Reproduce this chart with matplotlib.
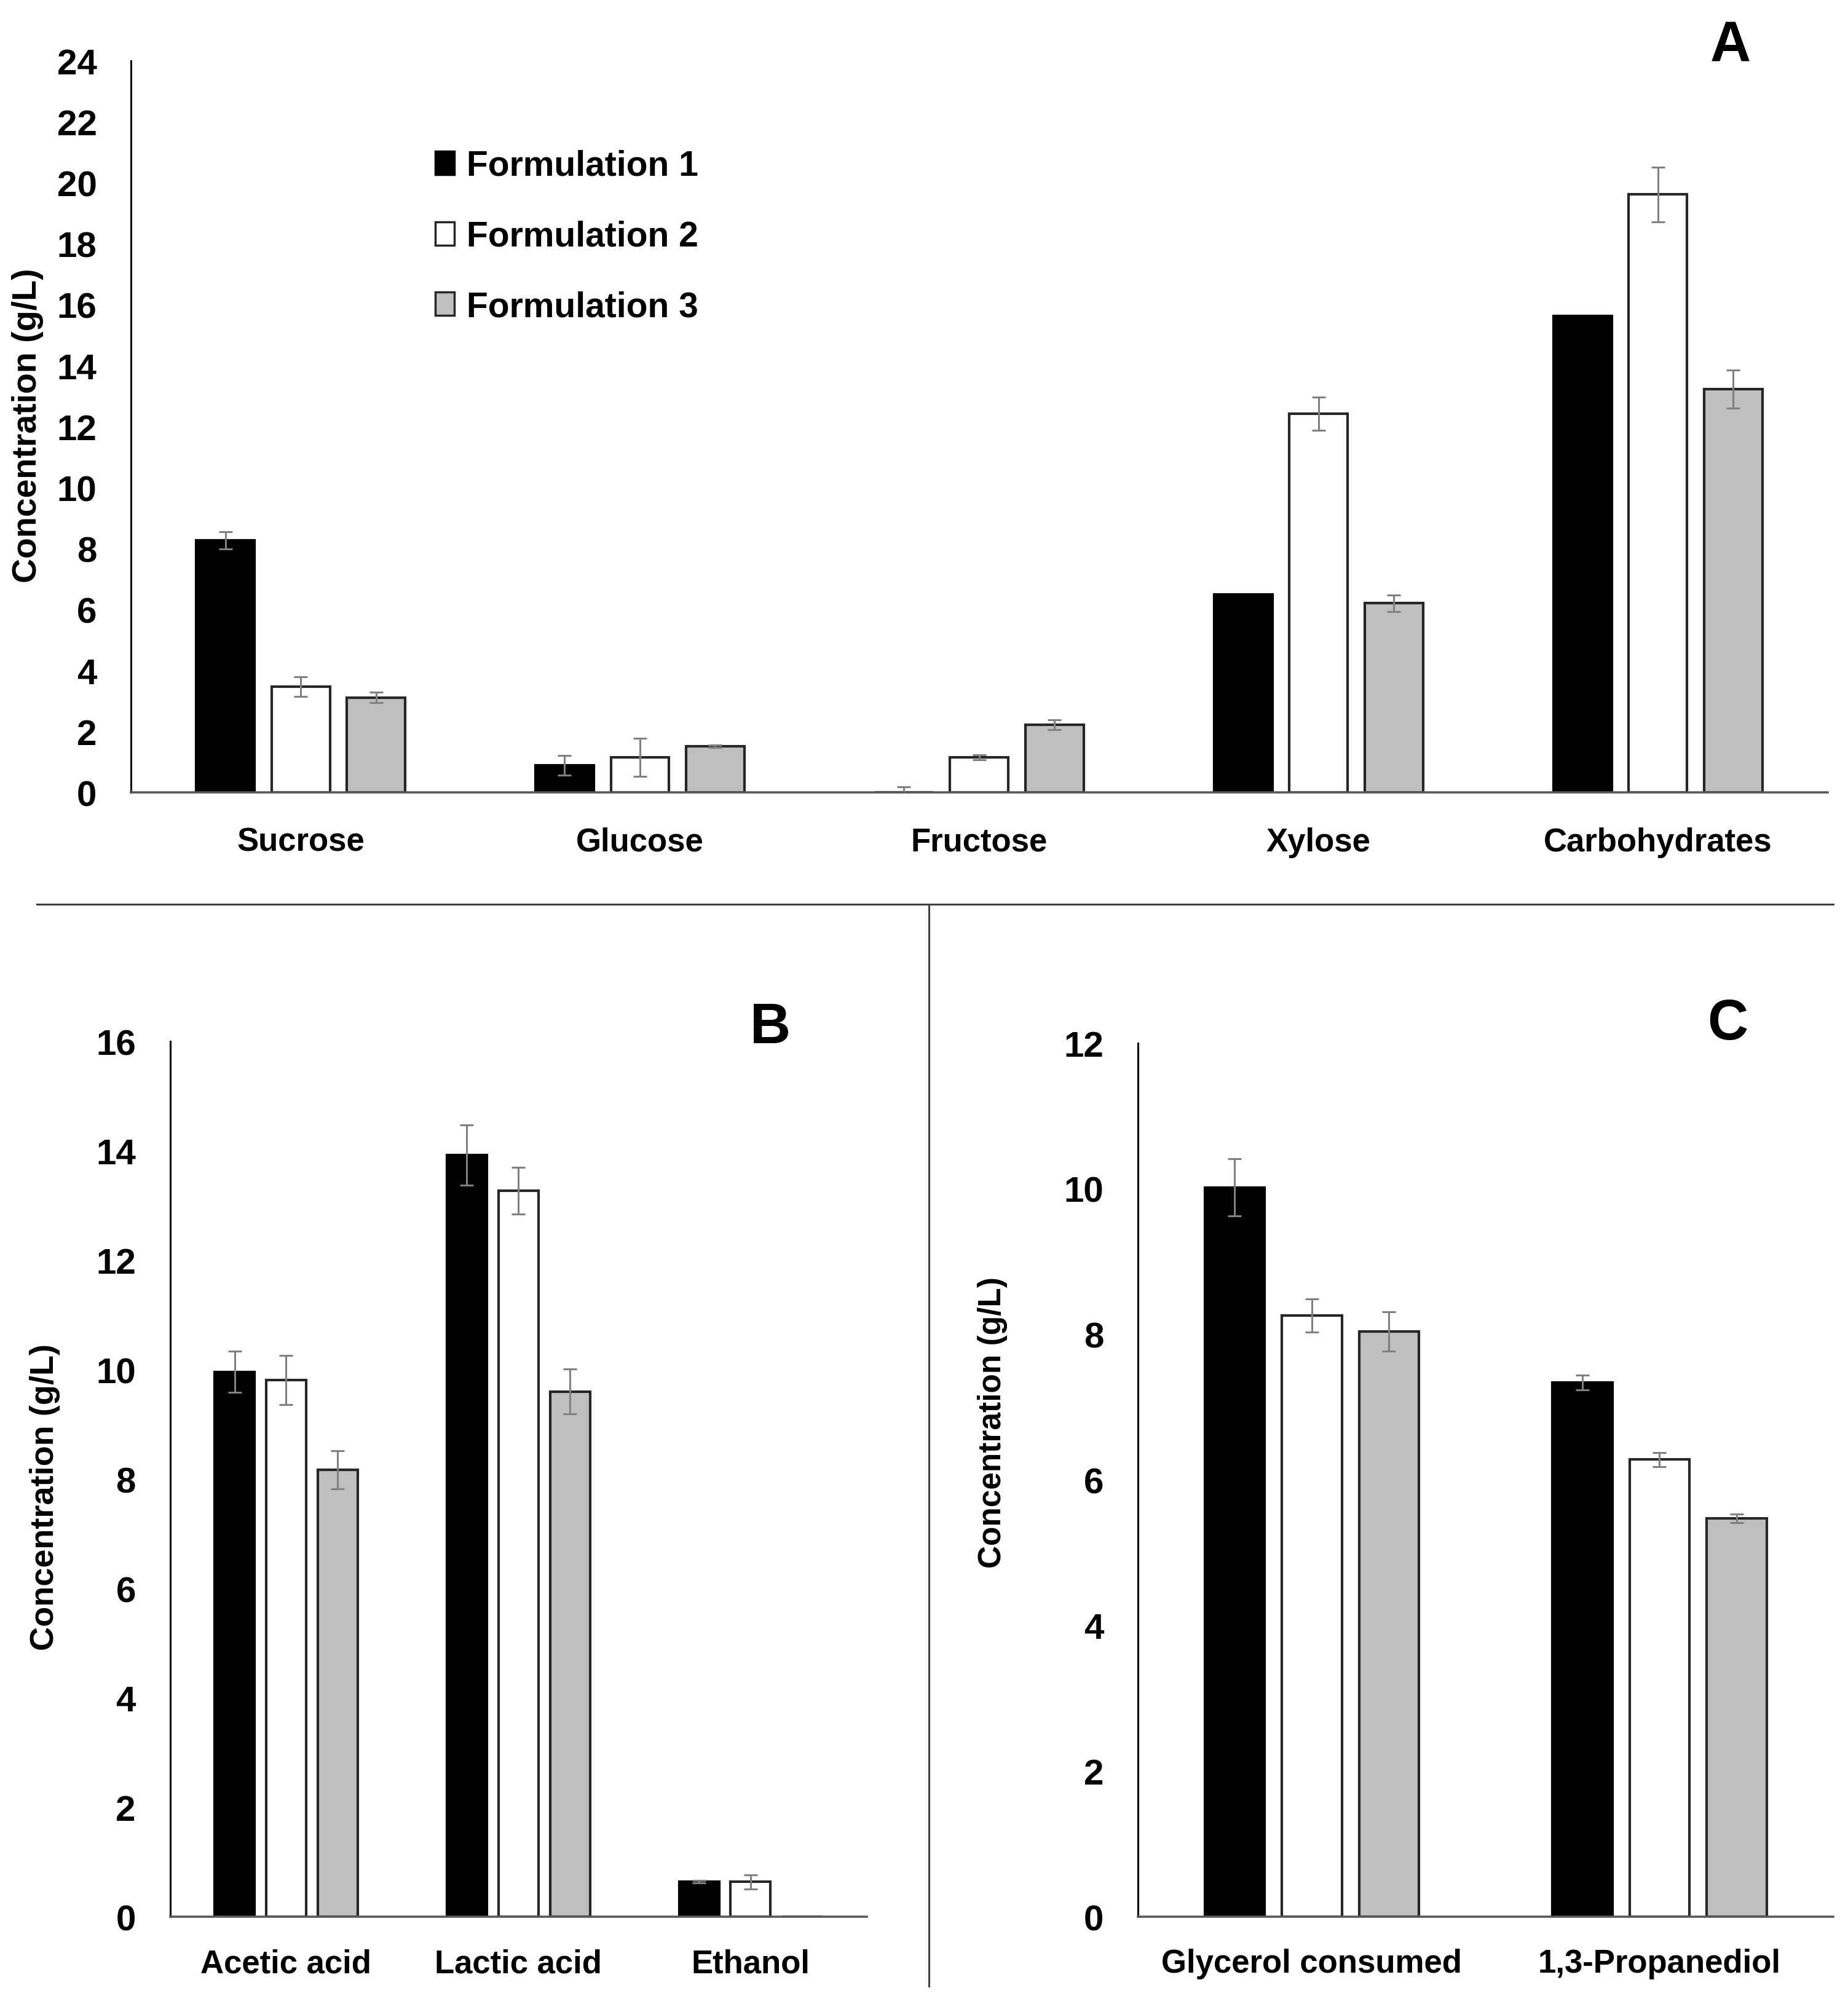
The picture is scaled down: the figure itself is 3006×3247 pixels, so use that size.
import numpy as np
import matplotlib
matplotlib.use("Agg")
import matplotlib.pyplot as plt
from matplotlib.patches import Patch
from matplotlib.lines import Line2D

plt.rcParams['font.family'] = ['Liberation Sans', 'DejaVu Sans']
plt.rcParams['font.weight'] = 'bold'

formulations = ["Formulation 1", "Formulation 2", "Formulation 3"]
fills = ["black", "white", "#bfbfbf"]
edges = ["black", "#262626", "#262626"]

# panel A - carbohydrates
cats_a = ["Sucrose", "Glucose", "Fructose", "Xylose", "Carbohydrates"]
f1_a = [8.27, 0.89, 0.0, 6.49, 15.63]
f2_a = [3.47, 1.15, 1.15, 12.42, 19.62]
f3_a = [3.11, 1.51, 2.22, 6.21, 13.23]
f1_a_err = [0.29, 0.33, 0.18, np.nan, np.nan]
f2_a_err = [0.33, 0.63, 0.08, 0.54, 0.90]
f3_a_err = [0.17, 0.04, 0.17, 0.27, 0.63]

# panel B - organic acids / ethanol
cats_b = ["Acetic acid", "Lactic acid", "Ethanol"]
f1_b = [9.96, 13.92, 0.64]
f2_b = [9.81, 13.27, 0.64]
f3_b = [8.17, 9.60, 0.0]
f1_b_err = [0.38, 0.55, 0.02]
f2_b_err = [0.45, 0.43, 0.13]
f3_b_err = [0.35, 0.41, np.nan]

# panel C - glycerol / 1,3-PDO
cats_c = ["Glycerol consumed", "1,3-Propanediol"]
f1_c = [10.02, 7.34]
f2_c = [8.26, 6.28]
f3_c = [8.04, 5.47]
f1_c_err = [0.39, 0.10]
f2_c_err = [0.23, 0.10]
f3_c_err = [0.27, 0.06]


def draw_panel(ax, cats, series, errs, ymax, letter, letter_xy, ylab_xy, ylab_size, xpad):
    x = np.arange(len(cats))
    offsets = [-0.222, 0.0, 0.222]
    for vals, err, fc, ec, off in zip(series, errs, fills, edges, offsets):
        ax.bar(x + off, vals, width=0.172, color=fc, edgecolor=ec, linewidth=3, zorder=2)
        ax.errorbar(x + off, vals, yerr=err, fmt='none', ecolor='#808080',
                    elinewidth=2.2, capsize=8, capthick=2.2, zorder=3)
    ax.set_xlim(-0.5, len(cats) - 0.5)
    ax.set_ylim(0, ymax)
    ax.set_yticks(np.arange(0, ymax + 1, 2))
    ax.set_xticks(x)
    ax.set_xticklabels(cats, fontsize=38, fontweight='bold')
    ax.tick_params(axis='y', length=0, pad=40, labelsize=42)
    ax.tick_params(axis='x', length=0, pad=xpad)
    for lab in ax.get_yticklabels():
        lab.set_fontweight('bold')
    ax.spines['top'].set_visible(False)
    ax.spines['right'].set_visible(False)
    ax.spines['left'].set_color('black')
    ax.spines['left'].set_linewidth(2.2)
    ax.spines['bottom'].set_color('#595959')
    ax.spines['bottom'].set_linewidth(2.6)
    ax.set_ylabel("Concentration (g/L)", fontsize=ylab_size, fontweight='bold', va='center')
    ax.yaxis.set_label_coords(*ylab_xy)
    ax.figure.text(letter_xy[0], letter_xy[1], letter, fontsize=66, fontweight='bold',
                   ha='center', va='center')


fig = plt.figure(figsize=(30.06, 32.48), dpi=100)

ax_a = fig.add_axes([0.0709, 0.6028, 0.918, 0.3664])
draw_panel(ax_a, cats_a, [f1_a, f2_a, f3_a], [f1_a_err, f2_a_err, f3_a_err], 24,
           "A", (0.9365, 0.9769), (-0.061, 0.5025), 40, 40)

ax_b = fig.add_axes([0.0920, 0.0397, 0.377, 0.4384])
draw_panel(ax_b, cats_b, [f1_b, f2_b, f3_b], [f1_b_err, f2_b_err, f3_b_err], 16,
           "B", (0.4168, 0.4849), (-0.18, 0.48), 39, 37)

ax_c = fig.add_axes([0.6158, 0.0397, 0.3763, 0.4375])
draw_panel(ax_c, cats_c, [f1_c, f2_c, f3_c], [f1_c_err, f2_c_err, f3_c_err], 12,
           "C", (0.935, 0.4868), (-0.209, 0.5665), 37, 37)

handles = [Patch(facecolor=fc, edgecolor=ec, linewidth=2.5) for fc, ec in zip(fills, edges)]
fig.legend(handles, formulations, loc='upper left', bbox_to_anchor=(0.2355, 0.9250),
           frameon=False, handlelength=0.55, handleheight=0.65,
           handletextpad=0.35, labelspacing=1.07, borderpad=0, borderaxespad=0,
           prop={'weight': 'bold', 'size': 41})

# panel separators
fig.add_artist(Line2D([0.02, 0.992], [0.5468, 0.5468], color='#404040', linewidth=2.2))
fig.add_artist(Line2D([0.5027, 0.5027], [0.5468, 0.005], color='#404040', linewidth=2.2))

fig.savefig("out.png", dpi=100, facecolor='white')
